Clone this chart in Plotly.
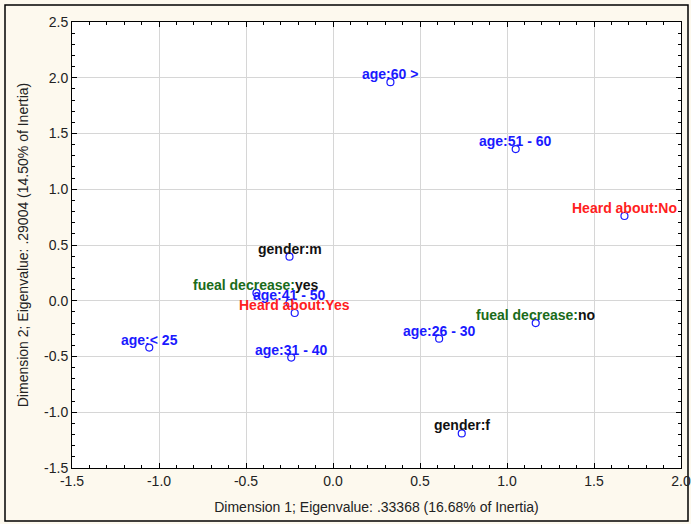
import plotly.graph_objects as go

# Data
labels_prefix = ["age:", "age:", "Heard about:", "gender:", "fueal decrease:", "age:",
                 "Heard about:", "age:", "age:", "age:", "fueal decrease:", "gender:"]
labels_suffix = ["60 >", "51 - 60", "No", "m", "yes", "41 - 50",
                 "Yes", "31 - 40", "< 25", "26 - 30", "no", "f"]
dim1 = [0.33, 1.05, 1.675, -0.25, -0.44, -0.25, -0.22, -0.24, -1.056, 0.61, 1.165, 0.74]
dim2 = [1.96, 1.36, 0.76, 0.395, 0.07, -0.02, -0.11, -0.51, -0.42, -0.34, -0.20, -1.19]
prefix_colors = ["#1a1aff", "#1a1aff", "#ff2020", "#111111", "#1a6b1a", "#1a1aff",
                 "#ff2020", "#1a1aff", "#1a1aff", "#1a1aff", "#1a6b1a", "#111111"]
suffix_colors = ["#1a1aff", "#1a1aff", "#ff2020", "#111111", "#111111", "#1a1aff",
                 "#ff2020", "#1a1aff", "#1a1aff", "#1a1aff", "#111111", "#111111"]
x_ticks = [-1.5, -1.0, -0.5, 0.0, 0.5, 1.0, 1.5, 2.0]
y_ticks = [-1.5, -1.0, -0.5, 0.0, 0.5, 1.0, 1.5, 2.0, 2.5]

FONT = "Liberation Sans, Arial, sans-serif"

fig = go.Figure()
fig.add_trace(go.Scatter(
    x=dim1, y=dim2, mode="markers",
    marker=dict(symbol="circle-open", size=7, color="#1a1aff", line=dict(width=1.2)),
    hoverinfo="skip", showlegend=False))

for xv, yv, p, s, pc, sc in zip(dim1, dim2, labels_prefix, labels_suffix, prefix_colors, suffix_colors):
    fig.add_annotation(
        x=xv, y=yv, xref="x", yref="y", showarrow=False, yshift=8,
        text=f"<b><span style='color:{pc}'>{p}</span><span style='color:{sc}'>{s}</span></b>",
        font=dict(family=FONT, size=14))

axis_common = dict(
    showgrid=True, gridcolor="#d6d6d6", gridwidth=1, zeroline=False,
    showline=True, linecolor="black", linewidth=1, mirror="ticks",
    ticks="inside", ticklen=5, tickcolor="black",
    minor=dict(ticks="inside", ticklen=3, tickcolor="black", dtick=0.1, showgrid=False),
    tickfont=dict(family=FONT, size=14, color="#222"),
    automargin=False,
)

fig.update_xaxes(range=[-1.5, 2.0], tickvals=x_ticks, ticktext=[f"{v:.1f}" for v in x_ticks],
                 title=dict(text="Dimension 1; Eigenvalue: .33368 (16.68% of Inertia)",
                            font=dict(family=FONT, size=14, color="#222"),
                            standoff=14),
                 **axis_common)
fig.update_yaxes(range=[-1.5, 2.5], tickvals=y_ticks, ticktext=[f"{v:.1f}" for v in y_ticks],
                 title=dict(text="Dimension 2; Eigenvalue: .29004 (14.50% of Inertia)",
                            font=dict(family=FONT, size=14, color="#222"),
                            standoff=12),
                 **axis_common)

W, H = 691, 524
L, R, T, B = 72, 10, 22, 56
PW, PH = W - L - R, H - T - B
fig.add_shape(type="rect", xref="paper", yref="paper",
              x0=-(L - 5) / PW, x1=1 + (R - 3) / PW, y0=-(B - 3) / PH, y1=1 + (T - 5) / PH,
              line=dict(color="black", width=1.5), fillcolor="rgba(0,0,0,0)", layer="below")

fig.update_layout(
    width=W, height=H,
    margin=dict(l=L, r=R, t=T, b=B),
    paper_bgcolor="#fdf9ee", plot_bgcolor="white",
    showlegend=False,
)

fig.write_html("out.html", config={"displayModeBar": False},
               post_script="document.body.style.margin='0';document.body.style.overflow='hidden';")
